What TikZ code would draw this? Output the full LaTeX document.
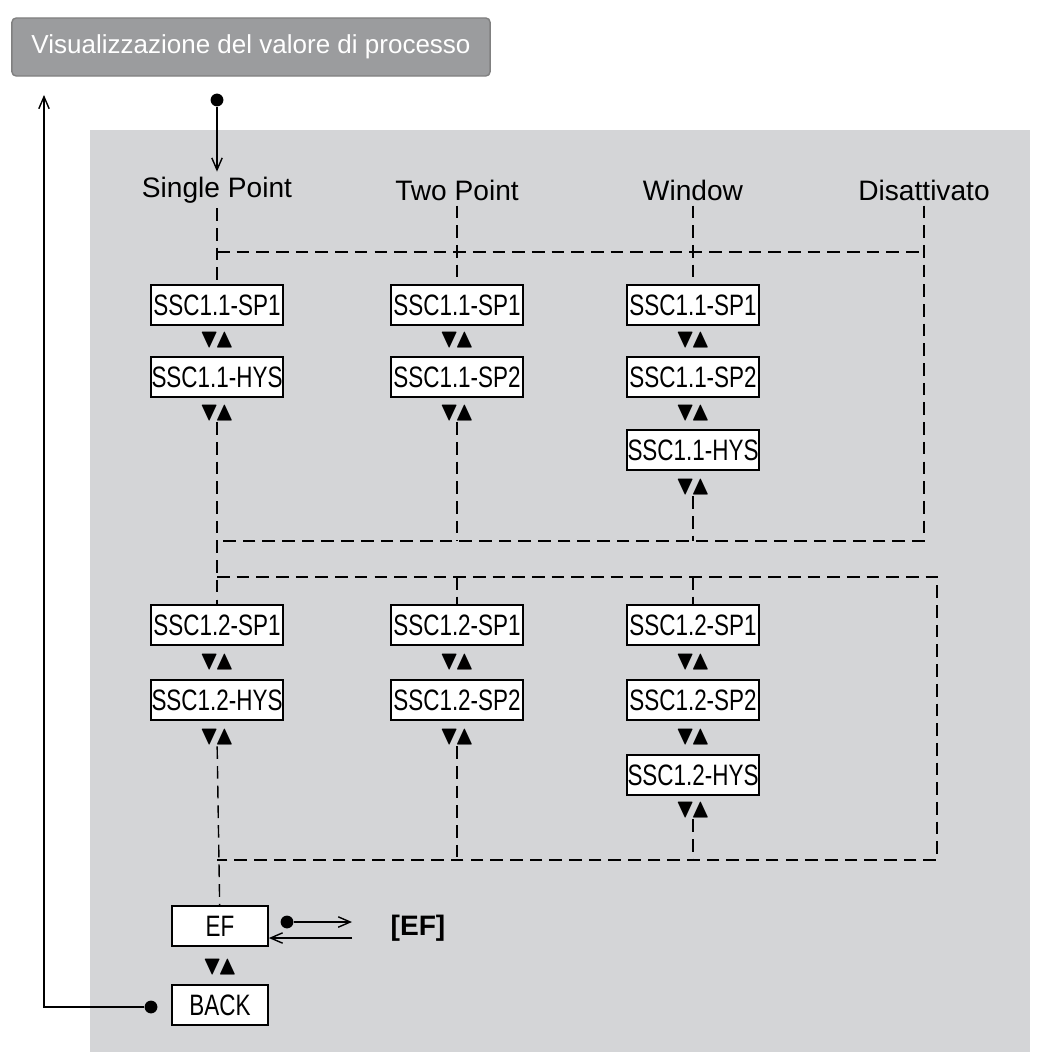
\documentclass[tikz,border=0pt]{standalone}
\usepackage{amssymb}
\usepackage{fontspec}
\setmainfont{Liberation Sans}
\newfontfamily\narrowfont{Liberation Sans}[FakeStretch=0.76]
\usetikzlibrary{arrows.meta}
\definecolor{panelgray}{RGB}{212,213,215}
\definecolor{titlegray}{RGB}{155,156,158}

\begin{document}
\begin{tikzpicture} [x=0.025cm,y=-0.025cm,thick,>={Straight Barb[length=3mm,width=2.6mm]},
		menu/.style={draw,fill=white,line width=1.2pt,minimum width=3.3cm,minimum height=1cm,inner sep=0pt,font=\narrowfont\fontsize{21}{21}\selectfont},
		small menu/.style={menu,minimum width=2.4cm},
		mode/.style={font=\fontsize{20}{20}\selectfont},
		updown/.style={font=\fontsize{19}{19}\selectfont,inner sep=1pt},
		link/.style={dashed,line width=1pt,dash pattern=on 9pt off 5pt},
		dot/.style={circle,fill,inner sep=0pt,minimum size=3.2mm}]

	\useasboundingbox (0,0) rectangle (1037,1057);
	\fill [panelgray] (90,130) rectangle (1030,1052);
	\node [draw=gray,line width=1pt,fill=titlegray,rounded corners=3pt,minimum width=11.95cm,minimum height=1.45cm,text=white,font=\fontsize{18.5}{18.5}\selectfont] (title) at (251,47) {Visualizzazione del valore di processo};

	\node [mode] (single) at (217,190) {Single Point};
	\node [mode] (two) at (457,190) {Two Point};
	\node [mode] (window) at (693,190) {Window};
	\node [mode] (off) at (924,190) {Disattivato};

	% group 1
	\node [menu] (a1) at (217,305) {SSC1.1-SP1};
	\node [updown] (a1u) at (217,340) {$\blacktriangledown\!\blacktriangle$};
	\node [menu] (a2) at (217,377) {SSC1.1-HYS};
	\node [updown] (a2u) at (217,413) {$\blacktriangledown\!\blacktriangle$};
	\node [menu] (b1) at (457,305) {SSC1.1-SP1};
	\node [updown] (b1u) at (457,340) {$\blacktriangledown\!\blacktriangle$};
	\node [menu] (b2) at (457,377) {SSC1.1-SP2};
	\node [updown] (b2u) at (457,413) {$\blacktriangledown\!\blacktriangle$};
	\node [menu] (c1) at (693,305) {SSC1.1-SP1};
	\node [updown] (c1u) at (693,340) {$\blacktriangledown\!\blacktriangle$};
	\node [menu] (c2) at (693,377) {SSC1.1-SP2};
	\node [updown] (c2u) at (693,413) {$\blacktriangledown\!\blacktriangle$};
	\node [menu] (c3) at (693,450) {SSC1.1-HYS};
	\node [updown] (c3u) at (693,487) {$\blacktriangledown\!\blacktriangle$};

	% group 2
	\node [menu] (d1) at (217,625) {SSC1.2-SP1};
	\node [updown] (d1u) at (217,662) {$\blacktriangledown\!\blacktriangle$};
	\node [menu] (d2) at (217,700) {SSC1.2-HYS};
	\node [updown] (d2u) at (217,737) {$\blacktriangledown\!\blacktriangle$};
	\node [menu] (e1) at (457,625) {SSC1.2-SP1};
	\node [updown] (e1u) at (457,662) {$\blacktriangledown\!\blacktriangle$};
	\node [menu] (e2) at (457,700) {SSC1.2-SP2};
	\node [updown] (e2u) at (457,737) {$\blacktriangledown\!\blacktriangle$};
	\node [menu] (f1) at (693,625) {SSC1.2-SP1};
	\node [updown] (f1u) at (693,662) {$\blacktriangledown\!\blacktriangle$};
	\node [menu] (f2) at (693,700) {SSC1.2-SP2};
	\node [updown] (f2u) at (693,737) {$\blacktriangledown\!\blacktriangle$};
	\node [menu] (f3) at (693,775) {SSC1.2-HYS};
	\node [updown] (f3u) at (693,810) {$\blacktriangledown\!\blacktriangle$};

	\node [small menu] (ef) at (220,926) {EF};
	\node [updown] (efu) at (220,967) {$\blacktriangledown\!\blacktriangle$};
	\node [small menu] (back) at (220,1005) {BACK};
	\node [font=\bfseries\fontsize{20}{20}\selectfont] (efpar) at (418,928) {[EF]};

	\node [dot] (start) at (217,100) {};
	\node [dot] (efdot) at (287,922) {};
	\node [dot] (backdot) at (151,1007) {};
	\coordinate (up) at (44,95);
	\coordinate (efout) at (352,922);
	\coordinate (efin) at (352,938);

	% branches
	\draw [link] (single) -- (a1);
	\draw [link] (two) -- (b1);
	\draw [link] (window) -- (c1);
	\draw [link] (single |- 0,252) -- (off |- 0,252);
	\draw [link] (off.south) -- (off |- 0,541) -- (a2u |- 0,541);
	\draw [link] (a2u) -- (d1);
	\draw [link] (b2u) -- (b2u |- 0,541);
	\draw [link] (c3u) -- (c3u |- 0,541);
	\draw [link] (d1 |- 0,577) -- (937,577) -- (937,860) -- (d2u |- 0,860);
	\draw [link] (e1 |- 0,577) -- (e1);
	\draw [link] (f1 |- 0,577) -- (f1);
	\draw [link] (d2u) -- (ef);
	\draw [link] (e2u) -- (e2u |- 0,860);
	\draw [link] (f3u) -- (f3u |- 0,860);

	\draw [->,line width=1pt] (start) -- (single);
	\draw [->,line width=1pt] (backdot) -| (up);
	\draw [->,line width=1pt] (efdot) -- (efout);
	\draw [->,line width=1pt] (efin) -- (ef.east |- efin);
\end{tikzpicture}
\end{document}
